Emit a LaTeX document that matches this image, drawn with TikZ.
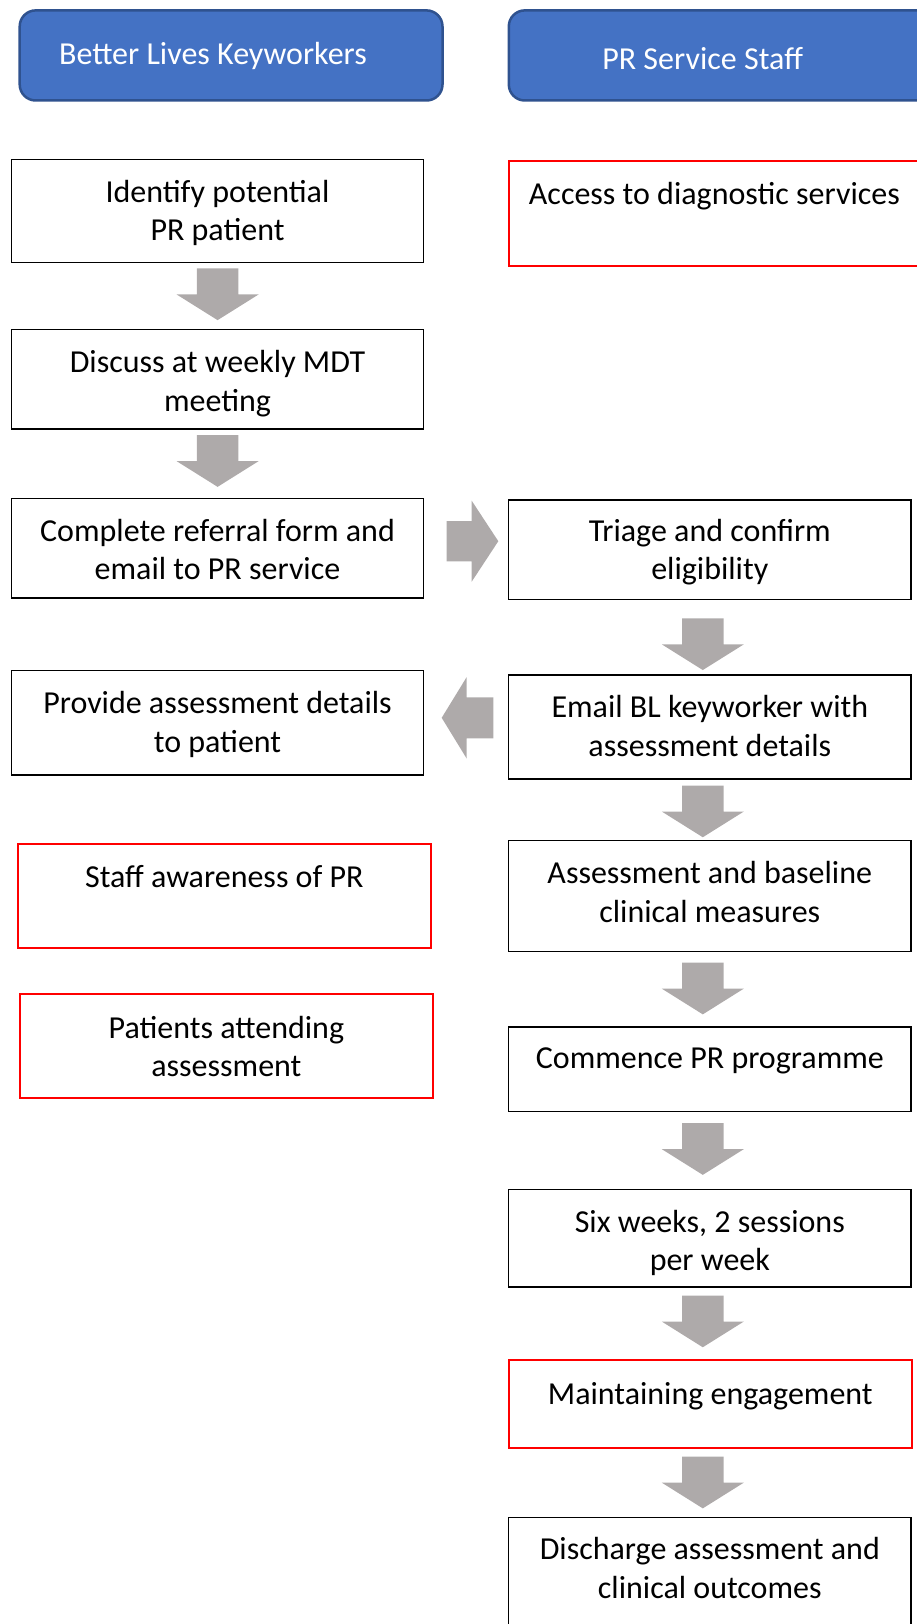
\documentclass[tikz,border=0pt]{standalone}
\usepackage{fontspec}
\setmainfont{Carlito}
\definecolor{hdrfill}{HTML}{4472C4}
\definecolor{hdrline}{HTML}{2F528F}
\definecolor{arrgray}{HTML}{AEAAAA}
\definecolor{redline}{HTML}{FF0000}
\tikzset{
  hdr/.style={draw=hdrline, line width=2.5pt, fill=hdrfill, rounded corners=16pt, inner sep=0pt},
  pbox/.style={draw=black, line width=1.3pt, fill=white, inner sep=0pt},
  rbox/.style={pbox, draw=redline, line width=2pt},
  txt/.style={inner sep=0pt, align=center, font=\fontsize{32}{38.5}\selectfont},
  htxt/.style={txt, text=white, font=\fontsize{32}{38}\selectfont},
  downarr/.pic={\fill[arrgray] (-20.8,-25.85) -- (20.8,-25.85) -- (20.8,0.15) -- (41,0.15)
      -- (0,25.85) -- (-41,0.15) -- (-20.8,0.15) -- cycle;},
}
\begin{document}
\begin{tikzpicture}[x=1pt,y=-1pt]
\useasboundingbox (0,0) rectangle (917,1624);
\begin{scope}
\clip (0,0) rectangle (917,1624);
% headers
\node[hdr, minimum width=422.8pt, minimum height=90.1pt] (h1) at (231.1,55.45) {};
\node[htxt] (h1t) at (212.9,56) {Better Lives Keyworkers};
\node[hdr, minimum width=431.2pt, minimum height=90.1pt] (h2) at (724.4,55.45) {};
\node[htxt] (h2t) at (702.6,59) {PR Service Staff};
% left column
\node[pbox, minimum width=412.2pt, minimum height=102.6pt] (L1) at (217.5,210.9) {};
\node[txt] (L1t) at (217.5,213) {Identify potential\\PR patient};
\node[pbox, minimum width=412.2pt, minimum height=99.5pt] (L2) at (217.5,379.3) {};
\node[txt] (L2t) at (217.5,383.4) {Discuss at weekly MDT\\meeting};
\node[pbox, minimum width=412.2pt, minimum height=99.5pt] (L3) at (217.5,548.2) {};
\node[txt] (L3t) at (217.5,549.4) {Complete referral form and\\email to PR service};
\node[pbox, minimum width=412.2pt, minimum height=104.6pt] (L4) at (217.5,722.7) {};
\node[txt] (L4t) at (217.5,724.4) {Provide assessment details\\to patient};
\node[rbox, minimum width=413.4pt, minimum height=104.6pt] (R1) at (224.3,895.8) {};
\node[txt] (R1t) at (224.3,877) {Staff awareness of PR};
\node[rbox, minimum width=413.4pt, minimum height=104.7pt] (R2) at (226.4,1046) {};
\node[txt] (R2t) at (226.4,1046.5) {Patients attending\\assessment};
% right column
\node[rbox, minimum width=411.2pt, minimum height=105.7pt] (A0) at (714.4,213.5) {};
\node[txt] (A0t) at (714.4,196) {Access to diagnostic services};
\node[pbox, minimum width=402.5pt, minimum height=99.3pt] (P1) at (709.8,549.7) {};
\node[txt] (P1t) at (709.8,552.3) {Triage and confirm\\eligibility};
\node[pbox, minimum width=402.5pt, minimum height=104pt] (P2) at (709.8,727) {};
\node[txt] (P2t) at (709.8,726) {Email BL keyworker with\\assessment details};
\node[pbox, minimum width=402.5pt, minimum height=110.8pt] (P3) at (709.8,895.8) {};
\node[txt] (P3t) at (709.8,892.2) {Assessment and baseline\\clinical measures};
\node[pbox, minimum width=402.5pt, minimum height=84.9pt] (P4) at (709.8,1069.3) {};
\node[txt] (P4t) at (709.8,1060.5) {Commence PR programme};
\node[pbox, minimum width=402.5pt, minimum height=97.4pt] (P5) at (709.8,1238.3) {};
\node[txt] (P5t) at (709.8,1243) {Six weeks, 2 sessions\\per week};
\node[rbox, minimum width=402.7pt, minimum height=87.4pt] (P6) at (710.3,1404) {};
\node[txt] (P6t) at (710.3,1396.5) {Maintaining engagement};
\node[pbox, minimum width=402.5pt, minimum height=122.7pt] (P7) at (709.8,1578.7) {};
\node[txt] (P7t) at (709.8,1568) {Discharge assessment and\\clinical outcomes};
% block arrows
\pic at (217.6,294.3) {downarr};
\pic at (217.6,461) {downarr};
\pic at (702.8,644.2) {downarr};
\pic at (702.8,811.4) {downarr};
\pic at (702.8,988.5) {downarr};
\pic at (702.8,1149) {downarr};
\pic at (702.8,1321.4) {downarr};
\pic at (702.8,1482.5) {downarr};
% right arrow
\fill[arrgray] (446.6,521) -- (471.7,521) -- (471.7,500.7) -- (498.3,541.2) -- (471.7,581.7)
  -- (471.7,561.4) -- (446.6,561.4) -- cycle;
% left arrow
\fill[arrgray] (493.3,697.3) -- (466.7,697.3) -- (466.7,677) -- (441.7,717.8) -- (466.7,758.6)
  -- (466.7,738.3) -- (493.3,738.3) -- cycle;
\end{scope}
\end{tikzpicture}
\end{document}
